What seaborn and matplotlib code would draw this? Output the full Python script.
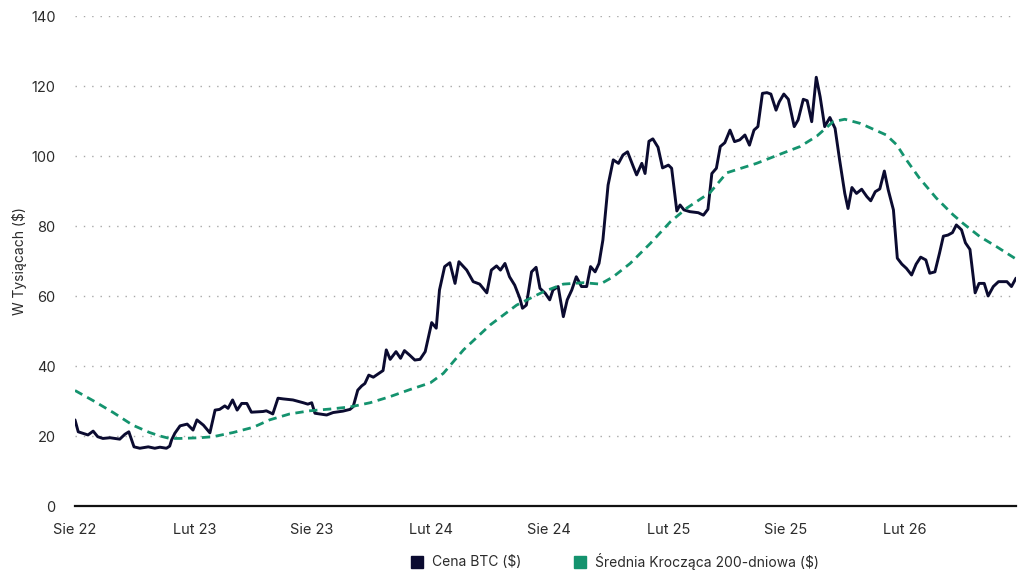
import seaborn as sns
import matplotlib.pyplot as plt
from matplotlib.lines import Line2D
import pandas as pd

# BTC weekly-ish close, thousands of USD
btc_dates = [
    '2022-08-01', '2022-08-06', '2022-08-16', '2022-08-21', '2022-08-29', '2022-09-05', '2022-09-13',
    '2022-09-24', '2022-10-09', '2022-10-17', '2022-10-23', '2022-10-31', '2022-11-09', '2022-11-22',
    '2022-12-02', '2022-12-10', '2022-12-20', '2022-12-25', '2022-12-28', '2023-01-02', '2023-01-10',
    '2023-01-21', '2023-01-30', '2023-02-05', '2023-02-15', '2023-02-25', '2023-03-05', '2023-03-12',
    '2023-03-20', '2023-03-25', '2023-04-01', '2023-04-08', '2023-04-15', '2023-04-23', '2023-04-30',
    '2023-05-18', '2023-05-23', '2023-06-02', '2023-06-10', '2023-06-18', '2023-07-03', '2023-07-19',
    '2023-07-26', '2023-08-01', '2023-08-06', '2023-08-24', '2023-09-03', '2023-09-18', '2023-09-29',
    '2023-10-04', '2023-10-11', '2023-10-17', '2023-10-22', '2023-10-28', '2023-11-04', '2023-11-11',
    '2023-11-19', '2023-11-24', '2023-11-30', '2023-12-09', '2023-12-16', '2023-12-22', '2023-12-30',
    '2024-01-07', '2024-01-15', '2024-01-23', '2024-02-02', '2024-02-09', '2024-02-14', '2024-02-22',
    '2024-03-01', '2024-03-09', '2024-03-15', '2024-03-27', '2024-04-06', '2024-04-16', '2024-04-27',
    '2024-05-04', '2024-05-12', '2024-05-18', '2024-05-25', '2024-06-01', '2024-06-09', '2024-06-17',
    '2024-06-21', '2024-06-27', '2024-07-05', '2024-07-12', '2024-07-18', '2024-07-26', '2024-08-02',
    '2024-08-07', '2024-08-15', '2024-08-23', '2024-08-29', '2024-09-05', '2024-09-12', '2024-09-20',
    '2024-09-28', '2024-10-04', '2024-10-11', '2024-10-17', '2024-10-23', '2024-10-31', '2024-11-08',
    '2024-11-16', '2024-11-23', '2024-11-30', '2024-12-09', '2024-12-14', '2024-12-22', '2024-12-27',
    '2025-01-02', '2025-01-08', '2025-01-16', '2025-01-23', '2025-02-01', '2025-02-06', '2025-02-14',
    '2025-02-19', '2025-02-25', '2025-03-06', '2025-03-19', '2025-03-27', '2025-04-03', '2025-04-09',
    '2025-04-16', '2025-04-22', '2025-04-29', '2025-05-07', '2025-05-14', '2025-05-22', '2025-05-30',
    '2025-06-06', '2025-06-13', '2025-06-19', '2025-06-26', '2025-07-03', '2025-07-09', '2025-07-17',
    '2025-07-22', '2025-07-29', '2025-08-05', '2025-08-14', '2025-08-20', '2025-08-28', '2025-09-03',
    '2025-09-10', '2025-09-17', '2025-09-23', '2025-09-30', '2025-10-08', '2025-10-16', '2025-10-23',
    '2025-10-31', '2025-11-05', '2025-11-11', '2025-11-18', '2025-11-26', '2025-12-04', '2025-12-10',
    '2025-12-17', '2025-12-24', '2025-12-31', '2026-01-06', '2026-01-14', '2026-01-20', '2026-01-27',
    '2026-02-03', '2026-02-11', '2026-02-18', '2026-02-25', '2026-03-05', '2026-03-11', '2026-03-19',
    '2026-03-26', '2026-04-01', '2026-04-08', '2026-04-15', '2026-04-21', '2026-04-29', '2026-05-05',
    '2026-05-12', '2026-05-20', '2026-05-26', '2026-06-03', '2026-06-09', '2026-06-17', '2026-06-25',
    '2026-07-08', '2026-07-15', '2026-07-22',
]
btc_values = [
    24.6, 21.2, 20.6, 20.3, 21.4, 19.8, 19.3,
    19.5, 19.1, 20.5, 21.2, 16.9, 16.5, 16.9,
    16.5, 16.8, 16.5, 17.1, 18.9, 20.8, 22.9,
    23.4, 21.7, 24.6, 23.1, 20.9, 27.4, 27.6,
    28.6, 27.9, 30.3, 27.4, 29.3, 29.3, 26.8,
    27.0, 27.2, 26.3, 30.8, 30.6, 30.3, 29.5,
    29.1, 29.5, 26.5, 26.0, 26.7, 27.1, 27.6,
    28.4, 33.1, 34.3, 35.0, 37.4, 36.8, 37.7,
    38.7, 44.6, 41.9, 44.1, 42.2, 44.4, 43.1,
    41.7, 41.9, 44.1, 52.4, 50.8, 61.7, 68.4,
    69.5, 63.6, 69.8, 67.4, 64.1, 63.4, 60.9,
    67.4, 68.6, 67.4, 69.3, 65.5, 63.1, 59.3,
    56.5, 57.4, 66.9, 68.2, 62.2, 60.8, 58.9,
    61.7, 62.7, 54.1, 58.9, 61.7, 65.5, 62.7,
    62.7, 68.4, 66.9, 69.3, 76.0, 91.7, 98.9,
    97.9, 100.3, 101.2, 96.9, 94.6, 97.9, 95.0,
    104.2, 104.9, 102.5, 96.6, 97.4, 96.5, 84.3,
    86.0, 84.6, 84.1, 83.8, 83.1, 84.8, 95.0,
    96.5, 102.7, 103.8, 107.4, 104.1, 104.6, 106.0,
    103.1, 107.4, 108.4, 117.9, 118.1, 117.7, 113.1,
    115.5, 117.7, 116.2, 108.4, 110.3, 116.2, 115.8,
    109.8, 122.5, 116.9, 108.4, 111.0, 107.9, 98.9,
    89.3, 85.0, 91.0, 89.3, 90.5, 88.4, 87.2,
    89.8, 90.6, 95.7, 90.3, 84.6, 70.8, 69.1,
    67.9, 66.0, 69.1, 71.1, 70.3, 66.5, 66.9,
    72.2, 77.1, 77.4, 78.1, 80.3, 78.9, 75.2,
    73.3, 60.9, 63.6, 63.6, 60.0, 62.7, 64.1,
    64.1, 62.7, 65.1,
]

# 200-day moving average, thousands of USD
ma_dates = [
    '2022-08-01', '2022-08-29', '2022-09-29', '2022-10-29', '2022-11-24', '2022-12-10', '2022-12-25',
    '2023-01-10', '2023-02-09', '2023-03-02', '2023-04-02', '2023-05-03', '2023-05-28', '2023-06-28',
    '2023-07-29', '2023-08-29', '2023-09-29', '2023-10-30', '2023-11-29', '2023-12-31', '2024-01-31',
    '2024-02-20', '2024-03-22', '2024-05-02', '2024-06-12', '2024-07-23', '2024-08-23', '2024-09-23',
    '2024-10-19', '2024-11-08', '2024-12-04', '2025-01-04', '2025-02-04', '2025-03-02', '2025-04-06',
    '2025-05-02', '2025-06-17', '2025-07-23', '2025-08-23', '2025-09-18', '2025-10-13', '2025-10-31',
    '2025-11-24', '2026-01-03', '2026-01-19', '2026-02-03', '2026-02-23', '2026-03-21', '2026-04-16',
    '2026-05-01', '2026-05-27', '2026-06-22', '2026-07-20',
]
ma_values = [
    33.0, 30.1, 26.7, 23.1, 21.0, 20.0, 19.3,
    19.3, 19.5, 19.8, 21.0, 22.5, 24.6, 26.3,
    27.2, 27.7, 28.3, 29.5, 31.2, 33.3, 35.2,
    37.9, 44.6, 51.7, 57.4, 61.2, 63.4, 63.8,
    63.4, 65.5, 69.3, 75.0, 81.2, 85.2, 89.5,
    95.2, 97.9, 100.5, 102.7, 105.7, 109.8, 110.5,
    109.3, 106.0, 103.2, 98.9, 93.7, 88.0, 83.2,
    80.8, 77.0, 74.1, 70.8,
]

tick_dates = ['2022-08-01', '2023-02-01', '2023-08-01', '2024-02-01',
              '2024-08-01', '2025-02-01', '2025-08-01', '2026-02-01']
tick_labels = ['Sie 22', 'Lut 23', 'Sie 23', 'Lut 24', 'Sie 24', 'Lut 25', 'Sie 25', 'Lut 26']

navy = '#0b0b30'
green = '#14936e'
text_c = '#2b2b2b'

btc = pd.DataFrame({'date': pd.to_datetime(btc_dates), 'val': btc_values})
ma = pd.DataFrame({'date': pd.to_datetime(ma_dates), 'val': ma_values})

sns.set_theme(style='white')
plt.rcParams['font.family'] = ['Inter', 'DejaVu Sans']

fig = plt.figure(figsize=(10.24, 5.76), dpi=100)
ax = fig.add_axes([75 / 1024, 1 - 506 / 576, 941 / 1024, 490 / 576])

sns.lineplot(data=btc, x='date', y='val', color=navy, lw=2.1, ax=ax, zorder=3)
sns.lineplot(data=ma, x='date', y='val', color=green, lw=2.0, ax=ax, zorder=4)
ax.lines[-1].set_dashes((3, 2))

ax.set_ylim(0, 140)
ax.set_xlim(pd.Timestamp('2022-08-01'), pd.Timestamp('2026-07-22'))
ax.set_yticks(range(0, 141, 20))
ax.set_xticks(pd.to_datetime(tick_dates))
ax.set_xticklabels(tick_labels)

for y in range(20, 141, 20):
    ax.axhline(y, color='#a8a8a8', lw=1.0, ls=(0, (1, 5)), zorder=1)

for s in ['top', 'right', 'left']:
    ax.spines[s].set_visible(False)
ax.spines['bottom'].set_color('#111111')
ax.spines['bottom'].set_linewidth(1.6)

ax.tick_params(axis='both', length=0, labelsize=10.5, colors=text_c)
ax.tick_params(axis='y', pad=14)
ax.tick_params(axis='x', pad=12)
ax.set_xlabel('')
ax.set_ylabel('W Tysiącach ($)', fontsize=10, color=text_c)
ax.yaxis.set_label_coords(-48 / 941, 0.5)

handles = [Line2D([], [], marker='s', ls='', color=navy, markersize=8),
           Line2D([], [], marker='s', ls='', color=green, markersize=8)]
fig.legend(handles, ['Cena BTC ($)', 'Średnia Krocząca 200-dniowa ($)'],
           loc='center', bbox_to_anchor=(611 / 1024, 1 - 561 / 576), ncol=2,
           frameon=False, fontsize=10, handletextpad=0.1, columnspacing=3.2,
           labelcolor=text_c)

fig.savefig('out.png', dpi=100)
